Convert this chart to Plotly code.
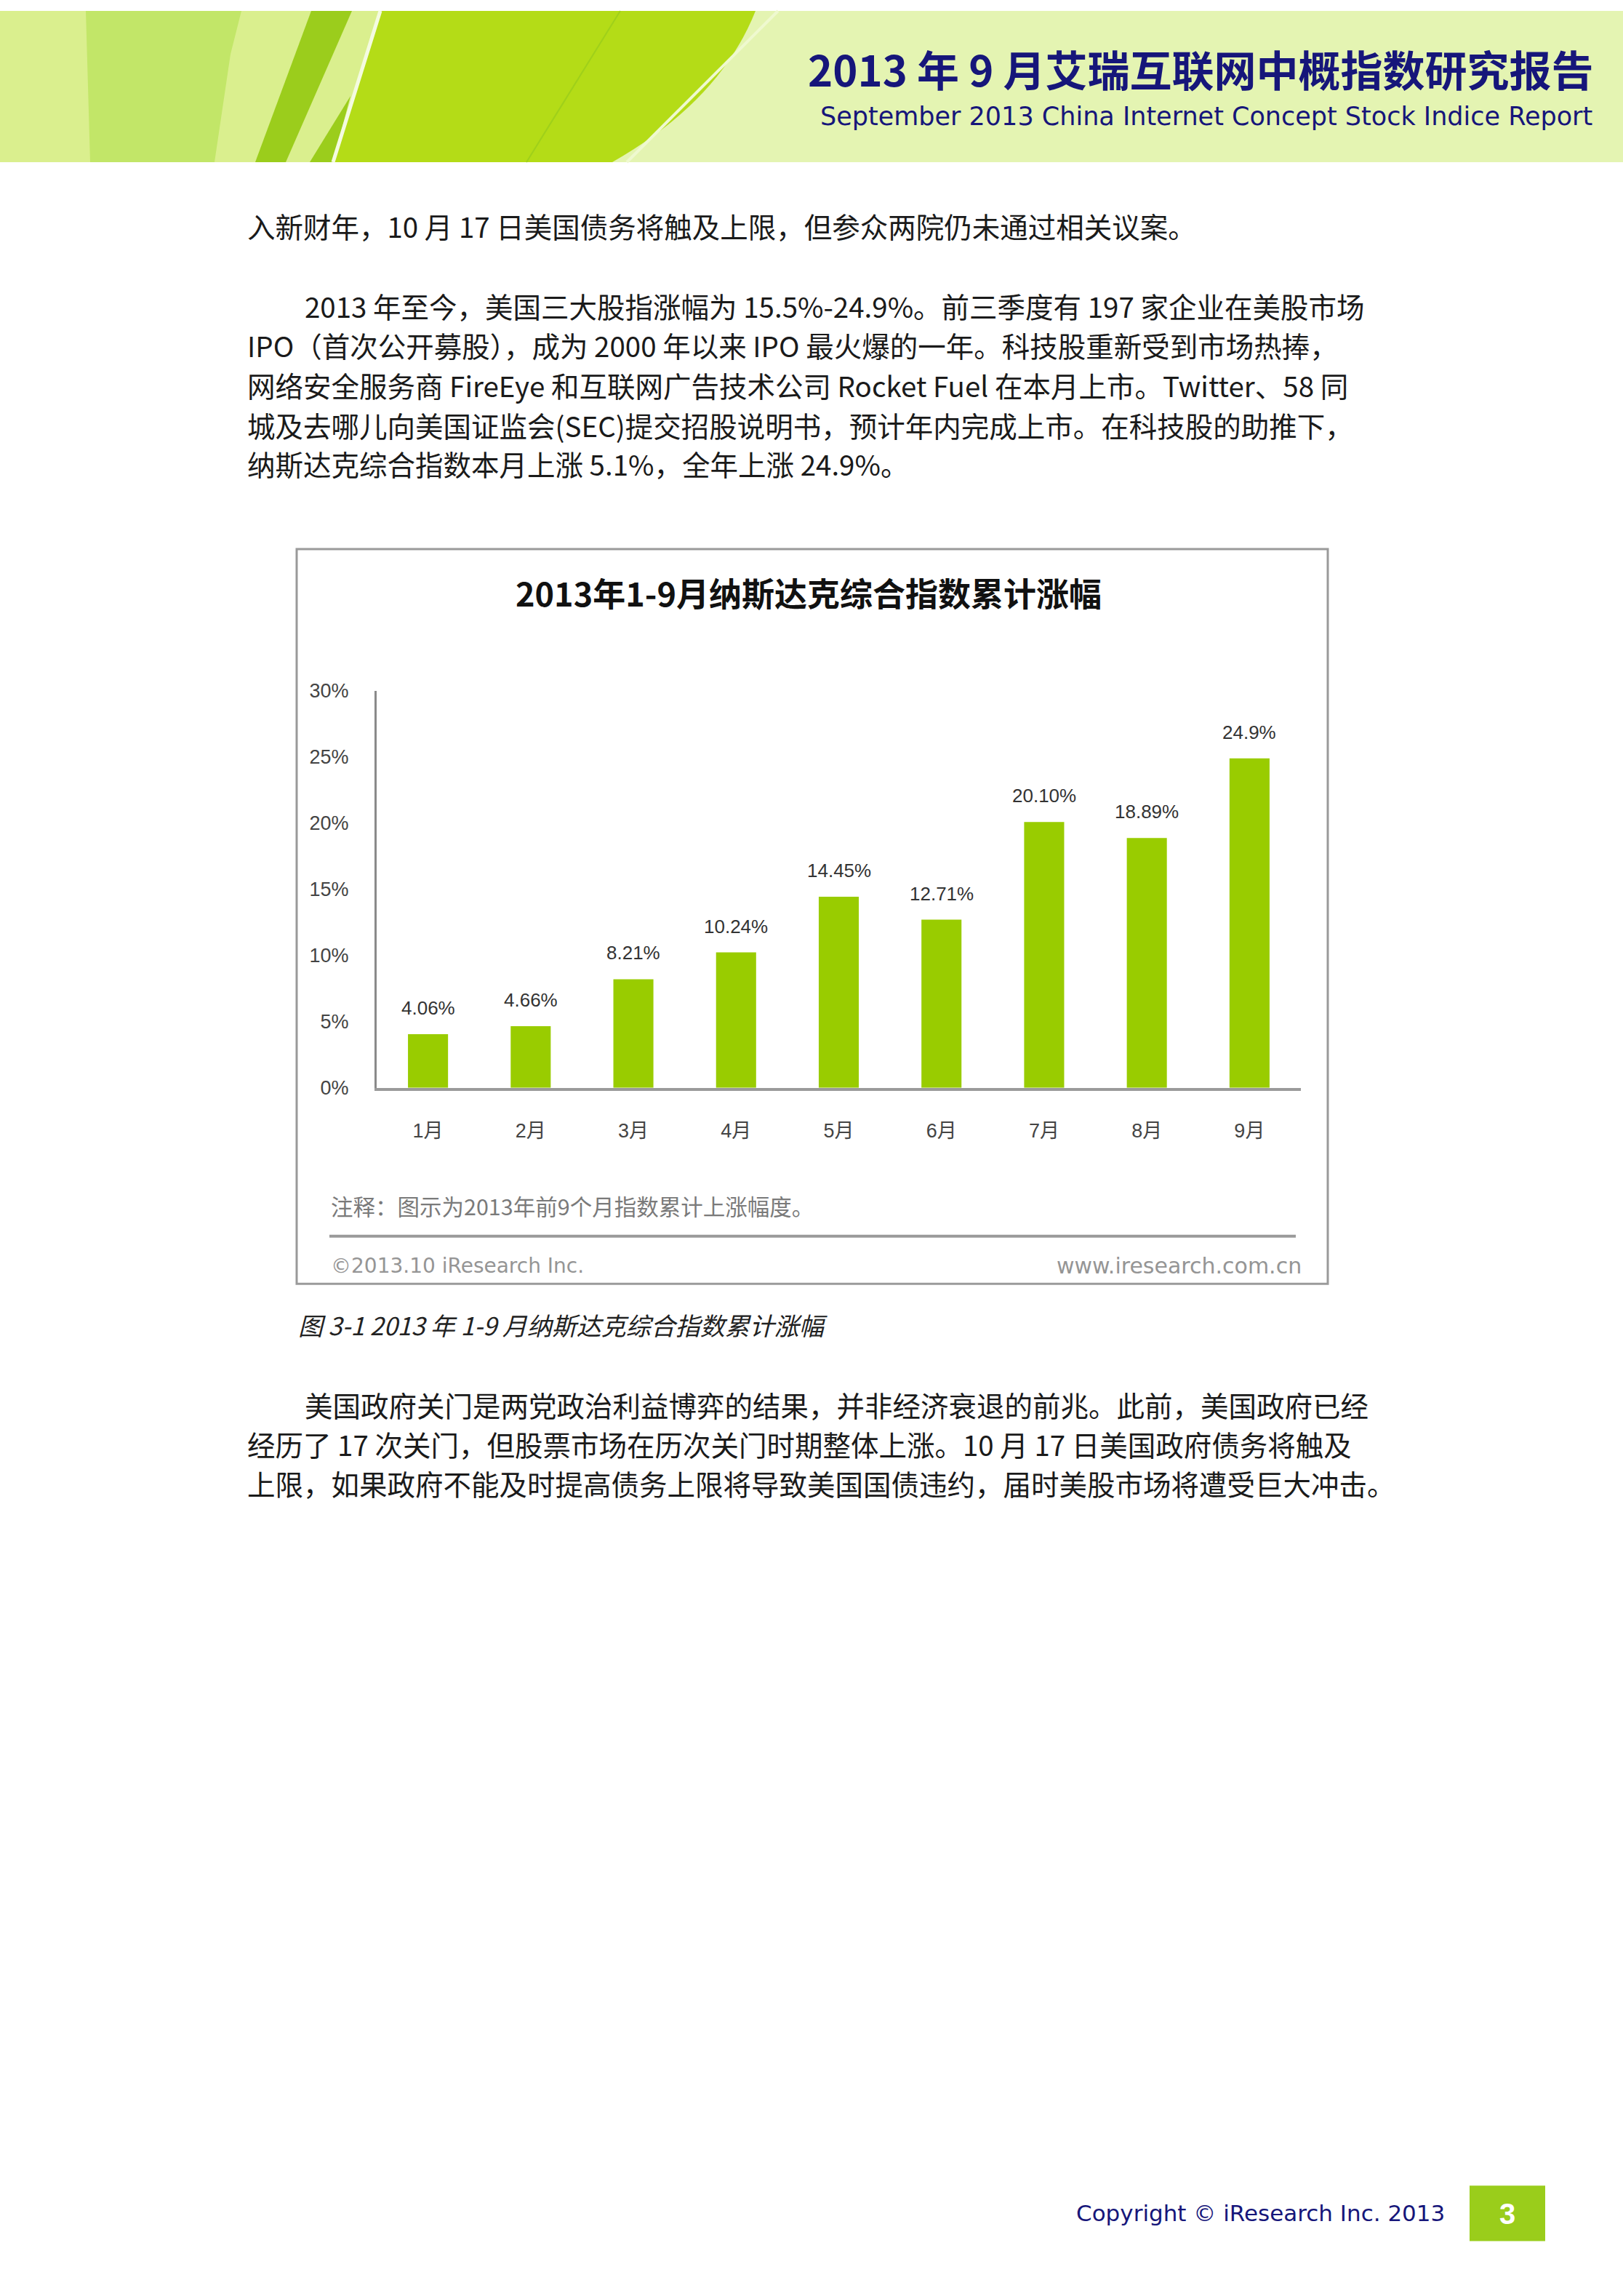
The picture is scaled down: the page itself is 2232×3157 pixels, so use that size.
import plotly.graph_objects as go

W, H = 2232, 3157

# ---------------- data ----------------
months = ["1月", "2月", "3月", "4月", "5月", "6月", "7月", "8月", "9月"]
values = [4.06, 4.66, 8.21, 10.24, 14.45, 12.71, 20.10, 18.89, 24.9]
value_labels = ["4.06%", "4.66%", "8.21%", "10.24%", "14.45%", "12.71%", "20.10%", "18.89%", "24.9%"]
y_ticks = [0, 5, 10, 15, 20, 25, 30]
y_tick_labels = ["0%", "5%", "10%", "15%", "20%", "25%", "30%"]

chart_title = "2013年1-9月纳斯达克综合指数累计涨幅"
note_text = "注释：图示为2013年前9个月指数累计上涨幅度。"
source_left = "©2013.10 iResearch Inc."
source_right = "www.iresearch.com.cn"
caption = "图 3-1 2013 年 1-9 月纳斯达克综合指数累计涨幅"

header_title = "2013 年 9 月艾瑞互联网中概指数研究报告"
header_sub = "September 2013 China Internet Concept Stock Indice Report"
footer_text = "Copyright © iResearch Inc. 2013"
page_no = "3"

para1 = ["入新财年，10 月 17 日美国债务将触及上限，但参众两院仍未通过相关议案。"]
para2 = [
    "2013 年至今，美国三大股指涨幅为 15.5%-24.9%。前三季度有 197 家企业在美股市场",
    "IPO（首次公开募股），成为 2000 年以来 IPO 最火爆的一年。科技股重新受到市场热捧，",
    "网络安全服务商 FireEye 和互联网广告技术公司 Rocket Fuel 在本月上市。Twitter、58 同",
    "城及去哪儿向美国证监会(SEC)提交招股说明书，预计年内完成上市。在科技股的助推下，",
    "纳斯达克综合指数本月上涨 5.1%，全年上涨 24.9%。",
]
para3 = [
    "美国政府关门是两党政治利益博弈的结果，并非经济衰退的前兆。此前，美国政府已经",
    "经历了 17 次关门，但股票市场在历次关门时期整体上涨。10 月 17 日美国政府债务将触及",
    "上限，如果政府不能及时提高债务上限将导致美国国债违约，届时美股市场将遭受巨大冲击。",
]

# ---------------- helpers (page pixel -> paper) ----------------
def px(x):
    return x / W


def py(y):
    return 1 - y / H


def poly(points, fill):
    d = "M " + " L ".join(f"{px(x):.5f},{py(y):.5f}" for x, y in points) + " Z"
    return dict(type="path", path=d, xref="paper", yref="paper",
                fillcolor=fill, line=dict(width=0), layer="below")


CJK = "Noto Sans CJK SC"
NUM = "Liberation Sans, Noto Sans CJK SC"
NAVY = "#16167a"

shapes = []
# header background
shapes.append(dict(type="rect", xref="paper", yref="paper", x0=0, x1=1, y0=py(210), y1=1,
                   fillcolor="#e4f4b2", line=dict(width=0), layer="below"))
shapes.append(poly([(0, 0), (530, 0), (460, 210), (0, 210)], "#daef8e"))
shapes.append(poly([(118, 0), (332, 0), (317, 60), (295, 210), (124, 210)], "#c2e668"))
shapes.append(poly([(428, 0), (484, 0), (393, 210), (351, 210)], "#9bcd1c"))
shapes.append(poly([(426, 210), (458, 210), (482, 118)], "#9bcd1c"))
green_path = (f"M {px(525):.5f},{py(0):.5f} L {px(1039):.5f},{py(0):.5f} "
              f"Q {px(990):.5f},{py(125):.5f} {px(842):.5f},{py(210):.5f} "
              f"L {px(460):.5f},{py(210):.5f} Z")
shapes.append(dict(type="path", path=green_path, xref="paper", yref="paper",
                   fillcolor="#b4dc17", line=dict(width=0), layer="below"))
shapes.append(dict(type="line", xref="paper", yref="paper", x0=px(523), y0=py(0), x1=px(458), y1=py(210),
                   line=dict(color="#f4fbe0", width=5), layer="below"))
shapes.append(dict(type="line", xref="paper", yref="paper", x0=px(853), y0=py(0), x1=px(724), y1=py(210),
                   line=dict(color="#9fd01a", width=2), layer="below"))
shapes.append(dict(type="line", xref="paper", yref="paper", x0=px(1070), y0=py(0), x1=px(862), y1=py(210),
                   line=dict(color="#eff9cf", width=4), layer="below"))

# chart frame
shapes.append(dict(type="rect", xref="paper", yref="paper", x0=px(408), x1=px(1826), y0=py(1767), y1=py(747),
                   fillcolor="rgba(0,0,0,0)", line=dict(color="#9a9a9a", width=3), layer="below"))
# separator line in chart
shapes.append(dict(type="line", xref="paper", yref="paper", x0=px(453), x1=px(1782), y0=py(1701), y1=py(1701),
                   line=dict(color="#9a9a9a", width=4), layer="below"))
# page number box
shapes.append(dict(type="rect", xref="paper", yref="paper", x0=px(2021), x1=px(2125), y0=py(3096), y1=py(3019),
                   fillcolor="#9acd1b", line=dict(width=0), layer="below"))

annotations = []


def txt(text, x, y, size, color, family=CJK, xanchor="left", weight="normal", style="normal"):
    annotations.append(dict(text=text, x=px(x), y=py(y), xref="paper", yref="paper",
                            xanchor=xanchor, yanchor="middle", showarrow=False,
                            font=dict(size=size, color=color, family=family, weight=weight, style=style)))


# header
txt(header_title, 2194, 80, 58, NAVY, xanchor="right", weight="bold")
txt(header_sub, 2192, 146, 35, NAVY, family="DejaVu Sans", xanchor="right")

# body text
BODY = "#1a1a1a"
BS = 38.5
for i, line in enumerate(para1):
    txt(line, 338, 298, BS, BODY)
p2_y = [409, 463, 519, 574, 628]
for i, line in enumerate(para2):
    txt(line, 417 if i == 0 else 338, p2_y[i], BS, BODY)
p3_y = [1934, 1989, 2043]
for i, line in enumerate(para3):
    txt(line, 417 if i == 0 else 338, p3_y[i], BS, BODY)

# chart texts
txt(chart_title, 1112, 807, 45, "#111111", xanchor="center", weight="bold")
txt(note_text, 453, 1659, 30.5, "#7a7a7a")
txt(source_left, 453, 1742, 28, "#959595", family="DejaVu Sans")
txt(source_right, 1792, 1742, 30, "#959595", family="DejaVu Sans", xanchor="right")
txt(caption, 408, 1824, 34, "#222222", style="italic")

# footer
txt(footer_text, 1989, 3057, 31, NAVY, family="DejaVu Sans", xanchor="right")
txt(page_no, 2073, 3058, 40, "#ffffff", family="Liberation Sans", xanchor="center", weight="bold")

# value labels above bars (data coordinates)
for m, v, lab in zip(months, values, value_labels):
    annotations.append(dict(text=lab, x=m, y=v, xref="x", yref="y", showarrow=False,
                            yanchor="middle", yshift=36,
                            font=dict(size=26, color="#333333", family=NUM)))

fig = go.Figure()
fig.add_trace(go.Bar(x=months, y=values, marker=dict(color="#99cc00", line=dict(width=0)),
                     hoverinfo="skip", showlegend=False))

fig.update_layout(
    width=W, height=H,
    margin=dict(l=0, r=0, t=0, b=0),
    paper_bgcolor="#ffffff", plot_bgcolor="rgba(0,0,0,0)",
    bargap=0.61,
    shapes=shapes,
    annotations=annotations,
    xaxis=dict(domain=[px(518), px(1789)], showline=True, linecolor="#9a9a9a", linewidth=4,
               showgrid=False, zeroline=False, ticks="", ticklabelstandoff=32,
               tickfont=dict(size=27, color="#444444", family=NUM), fixedrange=True),
    yaxis=dict(domain=[py(1495), py(944)], range=[0, 30], tickvals=y_ticks, ticktext=y_tick_labels,
               showline=True, linecolor="#8a8a8a", linewidth=3, showgrid=False, zeroline=False,
               ticks="", ticklabelstandoff=30,
               tickfont=dict(size=27, color="#444444", family=NUM), fixedrange=True),
)

fig.write_html("out.html", config={"displayModeBar": False},
               post_script="document.documentElement.style.margin='0';document.body.style.margin='0';"
                           "document.body.style.padding='0';document.body.style.overflow='hidden';")
